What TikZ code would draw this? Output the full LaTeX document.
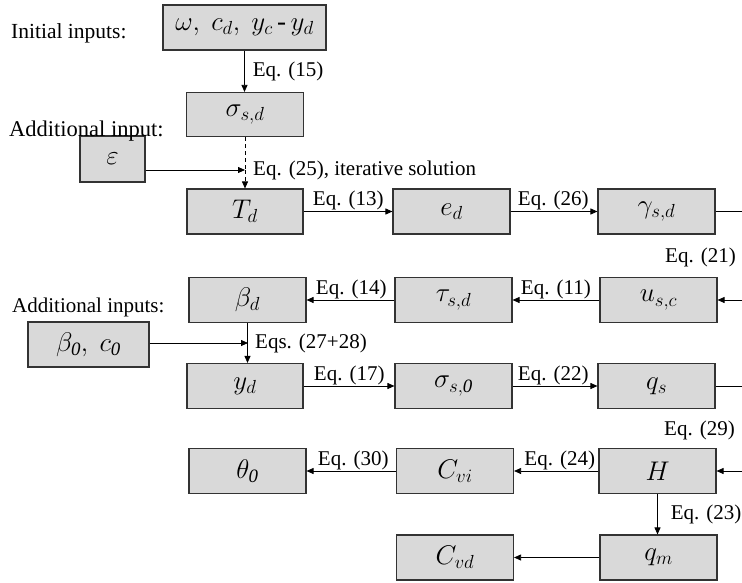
\RequirePackage{fix-cm}
\documentclass[tikz,border=0pt]{standalone}
\usepackage{fontspec}
\setmainfont{Liberation Serif}
\usetikzlibrary{arrows.meta}
\begin{document}
\begin{tikzpicture}[x=1pt,y=-1pt,
  box/.style={draw=black!80, line width=1.1pt, fill=gray!30, minimum width=117pt,
    minimum height=45pt, inner sep=0pt, font=\fontsize{27}{32}\selectfont},
  arr/.style={-{Triangle[length=7pt,width=6pt]}, line width=0.8pt},
  ln/.style={line width=0.8pt},
  lab/.style={font=\fontsize{21}{24}\selectfont, inner sep=1pt},
]
\useasboundingbox (0,0) rectangle (742,583);

% boxes
\node[box, minimum width=163pt] (in) at (244.5,27.5) {$\omega,\ c_{d},\ y_{c}$\,-\,$y_{d}$};
\node[box, minimum height=44pt] (sd) at (245,114.5) {$\sigma_{s,d}$};
\node[box, minimum width=65pt, minimum height=46pt] (eps) at (112.5,159) {$\varepsilon$};
\node[box, minimum width=116pt] (Td) at (245,211.5) {$T_{d}$};
\node[box] (ed) at (451.5,211.5) {$e_{d}$};
\node[box] (gam) at (656.5,211.5) {$\gamma_{s,d}$};
\node[box] (usc) at (658.5,300) {$u_{s,c}$};
\node[box] (tau) at (453.5,300) {$\tau_{s,d}$};
\node[box] (bd) at (247.5,300) {$\beta_{d}$};
\node[box, minimum width=121pt] (b0) at (88.5,344.5) {$\beta_{\mathit{0}},\ c_{\mathit{0}}$};
\node[box, minimum width=116pt] (yd) at (245,386) {$y_{d}$};
\node[box] (s0) at (453.5,386) {$\sigma_{s,\mathit{0}}$};
\node[box] (qs) at (656.5,386) {$q_{s}$};
\node[box] (H) at (657.5,471) {$H$};
\node[box] (Cvi) at (455,471) {$C_{vi}$};
\node[box] (th) at (247.5,471) {$\theta_{\mathit{0}}$};
\node[box] (qm) at (658.5,557.5) {$q_{m}$};
\node[box] (Cvd) at (455,557.5) {$C_{vd}$};

% free ends
\coordinate (jn) at (245,170);
\coordinate (jb) at (248,343);
\coordinate (gout) at (742,211.5);
\coordinate (uin) at (742,300);
\coordinate (qout) at (742,386);
\coordinate (hin) at (742,471);

% side texts
\node[anchor=base west, inner sep=0pt, font=\fontsize{21.5}{24}\selectfont] (t1) at (11,39) {Initial inputs:};
\node[anchor=base west, inner sep=0pt, font=\fontsize{22.5}{26}\selectfont] (t2) at (9,137) {Additional input:};
\node[anchor=base west, inner sep=0pt, font=\fontsize{21}{24}\selectfont] (t3) at (12,312) {Additional inputs:};

% connectors
\draw[arr] (in.south) -- (in.south |- sd.north)
  node[lab, midway, anchor=west, xshift=7pt] {Eq. (15)};
\draw[ln, dash pattern=on 4pt off 3pt] (sd.south) -- (jn);
\draw[arr, dash pattern=on 4pt off 3pt] (jn) -- (Td.north);
\draw[arr] (eps.east |- jn) -- (jn);
\node[lab, anchor=west, xshift=7pt] at (jn) {Eq. (25), iterative solution};

\draw[arr] (Td.east) -- (ed.west) node[lab, pos=0, anchor=south west, xshift=8pt] {Eq. (13)};
\draw[arr] (ed.east) -- (gam.west) node[lab, pos=0, anchor=south west, xshift=6pt] {Eq. (26)};
\draw[ln] (gam.east) -- (gout);
\draw[arr] (uin) -- (usc.east);
\node[lab, anchor=south east] at (737,268) {Eq. (21)};
\draw[arr] (usc.west) -- (tau.east) node[lab, pos=1, anchor=south west, xshift=7pt] {Eq. (11)};
\draw[arr] (tau.west) -- (bd.east) node[lab, pos=1, anchor=south west, xshift=8pt] {Eq. (14)};

\draw[arr] (b0.east |- jb) -- (jb);
\draw[arr] (bd.south) -- (bd.south |- yd.north);
\node[lab, anchor=west, xshift=6pt] at (jb) {Eqs. (27+28)};

\draw[arr] (yd.east) -- (s0.west) node[lab, pos=0, anchor=south west, xshift=9pt] {Eq. (17)};
\draw[arr] (s0.east) -- (qs.west) node[lab, pos=0, anchor=south west, xshift=4pt] {Eq. (22)};
\draw[ln] (qs.east) -- (qout);
\draw[arr] (hin) -- (H.east);
\node[lab, anchor=south east] at (736,441) {Eq. (29)};
\draw[arr] (H.west) -- (Cvi.east) node[lab, pos=1, anchor=south west, xshift=9pt] {Eq. (24)};
\draw[arr] (Cvi.west) -- (th.east) node[lab, pos=1, anchor=south west, xshift=10pt] {Eq. (30)};
\draw[arr] (H.south) -- (H.south |- qm.north) node[lab, midway, anchor=west, xshift=12pt] {Eq. (23)};
\draw[arr] (qm.west) -- (Cvd.east);
\end{tikzpicture}
\end{document}
